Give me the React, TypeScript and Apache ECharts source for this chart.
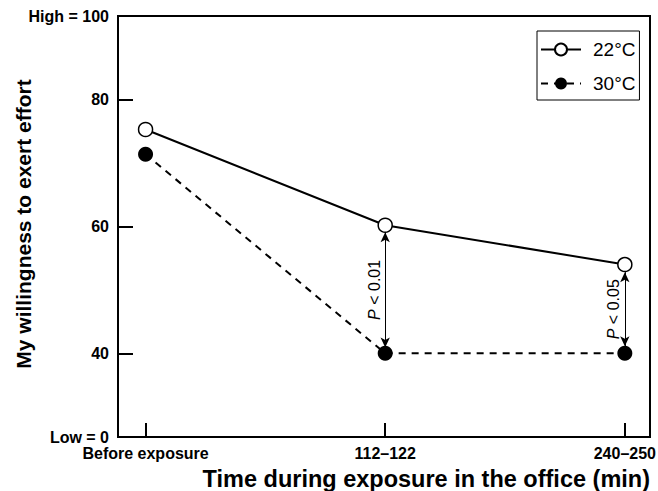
import React, { useEffect, useRef } from "react";
import * as echarts from "echarts";

const categories = ["Before exposure", "112–122", "240–250"];
const xPositions = [0, 1, 2];
const series22 = [75.3, 60.2, 54.0];
const series30 = [71.4, 40.0, 40.0];
const yTicks = [40, 60, 80];
const yMin = 26.8;
const yMax = 93.2;
const yMinLabel = "Low = 0";
const yMaxLabel = "High = 100";
const sigLabels = ["0.01", "0.05"];
// [x, lower end, upper end]
const sigRanges = [
  [1, 40.9, 59.1],
  [2, 41.1, 52.8],
];

const FONT = "'Liberation Sans', Arial, Helvetica, sans-serif";

export default function App() {
  const ref = useRef<HTMLDivElement>(null);
  useEffect(() => {
    if (!ref.current) return;
    const chart = echarts.init(ref.current, undefined, { renderer: "svg" });
    chart.setOption({
      animation: false,
      backgroundColor: "#fff",
      textStyle: { fontFamily: FONT },
      grid: {
        left: 118,
        right: 8,
        top: 16,
        bottom: 54,
        containLabel: false,
        outerBoundsMode: "none",
        show: true,
        borderColor: "#000",
        borderWidth: 2,
        backgroundColor: "transparent",
      },
      legend: {
        orient: "vertical",
        left: 537,
        top: 31,
        backgroundColor: "#fff",
        borderColor: "#000",
        borderWidth: 1,
        borderRadius: 0,
        padding: [9, 4, 7, 3],
        itemGap: 15,
        itemWidth: 40,
        itemHeight: 15,
        textStyle: { fontSize: 19, color: "#000", fontFamily: FONT, padding: [0, 0, 0, 7] },
        data: ["22°C", "30°C"],
      },
      xAxis: {
        type: "value",
        min: -0.115,
        max: 2.105,
        splitLine: { show: false },
        axisLine: { show: true, onZero: false, lineStyle: { color: "#000", width: 2 } },
        axisTick: {
          show: true,
          inside: true,
          length: 14,
          customValues: xPositions,
          lineStyle: { color: "#000", width: 2 },
        },
        axisLabel: {
          customValues: xPositions,
          formatter: (v: number) => categories[Math.round(v)] ?? "",
          color: "#000",
          fontWeight: "bold",
          fontSize: 16,
          margin: 8,
          fontFamily: FONT,
        },
      },
      yAxis: {
        type: "value",
        min: yMin,
        max: yMax,
        splitLine: { show: false },
        axisLine: { show: true, onZero: false, lineStyle: { color: "#000", width: 2 } },
        axisTick: {
          show: true,
          inside: true,
          length: 15,
          customValues: yTicks,
          lineStyle: { color: "#000", width: 2 },
        },
        axisLabel: {
          customValues: [yMin, ...yTicks, yMax],
          formatter: (v: number) =>
            Math.abs(v - yMin) < 0.01 ? yMinLabel : Math.abs(v - yMax) < 0.01 ? yMaxLabel : String(v),
          color: "#000",
          fontWeight: "bold",
          fontSize: 16,
          margin: 9,
          fontFamily: FONT,
        },
      },
      graphic: [
        {
          type: "text",
          x: 23,
          y: 224,
          rotation: Math.PI / 2,
          style: {
            text: "My willingness to exert effort",
            fontSize: 21,
            fontWeight: "bold",
            fill: "#000",
            fontFamily: FONT,
            align: "center",
            verticalAlign: "middle",
          },
        },
        {
          type: "text",
          right: 8,
          top: 467,
          style: {
            text: "Time during exposure in the office (min)",
            fontSize: 23.5,
            fontWeight: "bold",
            fill: "#000",
            fontFamily: FONT,
          },
        },
      ],
      series: [
        {
          name: "22°C",
          type: "line",
          data: xPositions.map((x, i) => [x, series22[i]]),
          symbol: "circle",
          symbolSize: 14,
          z: 3,
          lineStyle: { color: "#000", width: 2 },
          itemStyle: { color: "#fff", borderColor: "#000", borderWidth: 1.5 },
        },
        {
          name: "30°C",
          type: "line",
          data: xPositions.map((x, i) => [x, series30[i]]),
          symbol: "circle",
          symbolSize: 15,
          z: 3,
          lineStyle: { color: "#000", width: 2, type: [7, 6] },
          itemStyle: { color: "#000", borderColor: "#000", borderWidth: 0 },
          markLine: {
            silent: true,
            symbol: ["arrow", "arrow"],
            symbolSize: [7, 10],
            lineStyle: { color: "#000", width: 1, type: "solid" },
            label: {
              show: true,
              position: "insideMiddleTop",
              distance: 3,
              color: "#000",
              fontSize: 16,
              fontFamily: FONT,
              rich: {
                i: { fontStyle: "italic", fontSize: 16, color: "#000", fontFamily: FONT },
              },
            },
            data: sigRanges.map((r, i) => [
              { coord: [r[0], r[1]], label: { formatter: "{i|P} < " + sigLabels[i] } },
              { coord: [r[0], r[2]] },
            ]),
          },
        },
      ],
    });
    return () => chart.dispose();
  }, []);
  return (
    <div
      ref={ref}
      style={{ position: "fixed", left: 0, top: 0, width: 658, height: 491 }}
    />
  );
}
